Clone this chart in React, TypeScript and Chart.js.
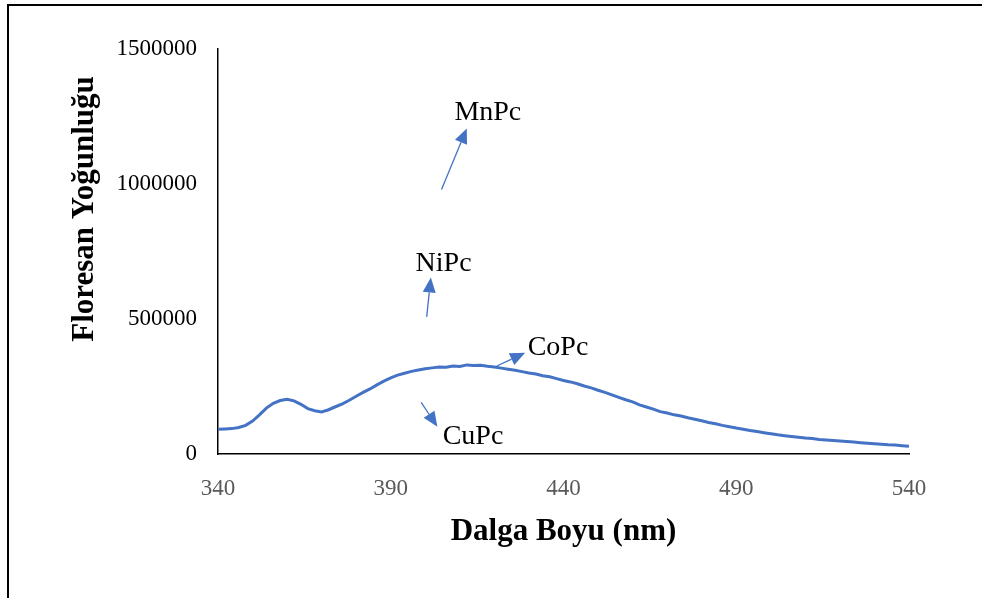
import React, { useEffect, useRef } from "react";
import { Chart, registerables } from "chart.js";

Chart.register(...registerables);

// Wavelength (nm)
const WAVELENGTHS = [
  340, 342, 344, 346, 348, 350, 352, 354, 356, 358,
  360, 362, 364, 366, 368, 370, 372, 374, 376, 378,
  380, 382, 384, 386, 388, 390, 392, 394, 396, 398,
  400, 402, 404, 406, 408, 410, 412, 414, 416, 418,
  420, 422, 424, 426, 428, 430, 432, 434, 436, 438,
  440, 442, 444, 446, 448, 450, 452, 454, 456, 458,
  460, 462, 464, 466, 468, 470, 472, 474, 476, 478,
  480, 482, 484, 486, 488, 490, 492, 494, 496, 498,
  500, 502, 504, 506, 508, 510, 512, 514, 516, 518,
  520, 522, 524, 526, 528, 530, 532, 534, 536, 538,
  540,
];

// Fluorescence intensity
const INTENSITY = [
  92000, 93000, 94000, 98000, 106000, 122000, 145000, 170000, 188000, 198000,
  203000, 197000, 184000, 168000, 160000, 156000, 164000, 175000, 186000, 199000,
  214000, 228000, 241000, 256000, 270000, 282000, 292000, 299000, 306000, 311000,
  316000, 319000, 322000, 321000, 326000, 324000, 330000, 328000, 329000, 325000,
  322000, 318000, 314000, 310000, 305000, 300000, 296000, 290000, 286000, 279000,
  272000, 267000, 260000, 252000, 245000, 236000, 228000, 219000, 210000, 201000,
  193000, 182000, 174000, 166000, 157000, 152000, 145000, 141000, 134000, 129000,
  123000, 117000, 112000, 106000, 101000, 96000, 92000, 87000, 83000, 79000,
  75000, 71000, 68000, 65000, 62000, 59000, 57000, 54000, 52000, 50000,
  48000, 46000, 44000, 42000, 40000, 38000, 36000, 34000, 33000, 31000,
  29000,
];

const X_MIN = 340;
const X_MAX = 540;
const X_STEP = 50;
const Y_MIN = 0;
const Y_MAX = 1500000;
const Y_STEP = 500000;

const X_TITLE = "Dalga Boyu (nm)";
const Y_TITLE = "Floresan Yoğunluğu";

// Annotations (data coordinates)
const ANNOTATION_LABELS = ["MnPc", "NiPc", "CoPc", "CuPc"];
const LABEL_X = [418.1, 405.3, 438.4, 413.8];
const LABEL_Y = [1263000, 704000, 393000, 63000];
const ARROW_FROM_X = [404.7, 400.4, 420.7, 398.8];
const ARROW_FROM_Y = [980000, 508000, 326000, 191000];
const ARROW_TO_X = [412.0, 401.6, 428.9, 403.5];
const ARROW_TO_Y = [1206000, 654000, 375000, 101000];

const BLUE = "#4472C4";
const FONT = '"Liberation Serif", "Times New Roman", serif';

const overlayPlugin = {
  id: "overlay",
  afterDraw(chart: any) {
    const ctx = chart.ctx as CanvasRenderingContext2D;
    const xs = chart.scales.x;
    const ys = chart.scales.y;
    const area = chart.chartArea;
    ctx.save();

    // arrows
    for (let i = 0; i < ANNOTATION_LABELS.length; i++) {
      const x1 = xs.getPixelForValue(ARROW_FROM_X[i]);
      const y1 = ys.getPixelForValue(ARROW_FROM_Y[i]);
      const x2 = xs.getPixelForValue(ARROW_TO_X[i]);
      const y2 = ys.getPixelForValue(ARROW_TO_Y[i]);
      const ang = Math.atan2(y2 - y1, x2 - x1);
      const headLen = 15;
      const headHalf = 6.5;
      const bx = x2 - headLen * Math.cos(ang);
      const by = y2 - headLen * Math.sin(ang);
      ctx.strokeStyle = BLUE;
      ctx.fillStyle = BLUE;
      ctx.lineWidth = 1.3;
      ctx.beginPath();
      ctx.moveTo(x1, y1);
      ctx.lineTo(bx, by);
      ctx.stroke();
      ctx.beginPath();
      ctx.moveTo(x2, y2);
      ctx.lineTo(bx + headHalf * Math.sin(ang), by - headHalf * Math.cos(ang));
      ctx.lineTo(bx - headHalf * Math.sin(ang), by + headHalf * Math.cos(ang));
      ctx.closePath();
      ctx.fill();
    }

    // labels
    ctx.fillStyle = "#000";
    ctx.font = `28px ${FONT}`;
    ctx.textAlign = "center";
    ctx.textBaseline = "middle";
    for (let i = 0; i < ANNOTATION_LABELS.length; i++) {
      ctx.fillText(
        ANNOTATION_LABELS[i],
        xs.getPixelForValue(LABEL_X[i]),
        ys.getPixelForValue(LABEL_Y[i])
      );
    }

    // axis titles
    ctx.font = `bold 31px ${FONT}`;
    ctx.fillText(X_TITLE, (area.left + area.right) / 2, area.bottom + 78);
    ctx.translate(85, area.top + 160);
    ctx.rotate(-Math.PI / 2);
    ctx.fillText(Y_TITLE, 0, 0);
    ctx.restore();
  },
};

export default function App() {
  const canvasRef = useRef<HTMLCanvasElement | null>(null);

  useEffect(() => {
    if (!canvasRef.current) return;
    const points = WAVELENGTHS.map((x, i) => ({ x, y: INTENSITY[i] }));
    const chart = new Chart(canvasRef.current, {
      type: "line",
      data: {
        datasets: [
          {
            data: points,
            borderColor: BLUE,
            borderWidth: 3,
            pointRadius: 0,
            tension: 0,
            fill: false,
          },
        ],
      },
      options: {
        animation: false,
        responsive: true,
        maintainAspectRatio: false,
        layout: { padding: { left: 0, top: 49, right: 73, bottom: 0 } },
        plugins: {
          legend: { display: false },
          tooltip: { enabled: false },
        },
        scales: {
          x: {
            type: "linear",
            min: X_MIN,
            max: X_MAX,
            afterFit: (s: any) => {
              s.height = 144;
            },
            afterBuildTicks: (s: any) => {
              const t = [];
              for (let v = X_MIN; v <= X_MAX; v += X_STEP) t.push({ value: v });
              s.ticks = t;
            },
            ticks: {
              color: "#595959",
              font: { family: FONT, size: 23 },
              padding: 21,
              maxRotation: 0,
              autoSkip: false,
            },
            grid: { display: false, drawTicks: false },
            border: { display: true, color: "#000", width: 1.5 },
          },
          y: {
            min: Y_MIN,
            max: Y_MAX,
            afterFit: (s: any) => {
              s.width = 218;
            },
            ticks: {
              stepSize: Y_STEP,
              color: "#000",
              font: { family: FONT, size: 23 },
              padding: 21,
              callback: (v: any) => String(v),
            },
            grid: { display: false, drawTicks: false },
            border: { display: true, color: "#000", width: 1.5 },
          },
        },
      },
      plugins: [overlayPlugin],
    });
    return () => chart.destroy();
  }, []);

  return (
    <div
      style={{
        position: "fixed",
        left: 0,
        top: 0,
        width: 982,
        height: 598,
        overflow: "hidden",
        background: "#fff",
      }}
    >
      <div
        style={{
          position: "absolute",
          left: 7,
          top: 4,
          right: 0,
          bottom: 0,
          borderTop: "2px solid #000",
          borderLeft: "2px solid #000",
        }}
      />
      <div style={{ position: "absolute", left: 0, top: 0, width: 982, height: 598 }}>
        <canvas ref={canvasRef} />
      </div>
    </div>
  );
}
